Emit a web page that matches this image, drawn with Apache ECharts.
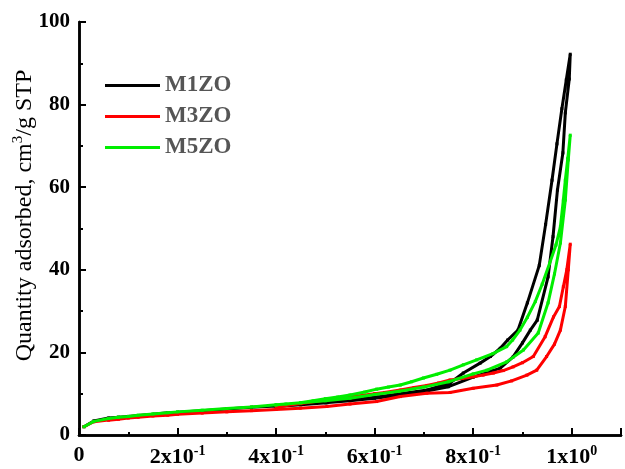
<!DOCTYPE html>
<html>
<head>
<meta charset="utf-8">
<script src="https://cdn.jsdelivr.net/npm/echarts@6/dist/echarts.min.js"></script>
<style>
  html, body { margin: 0; padding: 0; background: #fff; }
  #chart { width: 625px; height: 469px; }
</style>
</head>
<body>
<div id="chart"></div>
<script>
// N2 isotherms: relative pressure P/P0 and quantity adsorbed (cm3/g STP)
const seriesNames = ['M1ZO', 'M3ZO', 'M5ZO'];

// M1ZO adsorption / desorption branches
const m1zoAdsP = [0.01, 0.03, 0.06, 0.08, 0.10, 0.12, 0.15, 0.18, 0.20, 0.25, 0.30, 0.35, 0.40, 0.45, 0.50, 0.55, 0.60, 0.65, 0.70, 0.75, 0.80, 0.84, 0.855, 0.881, 0.90, 0.916, 0.93, 0.952, 0.962, 0.971, 0.982, 0.987, 0.995, 0.997];
const m1zoAdsQ = [2.0, 3.4, 4.1, 4.3, 4.5, 4.7, 5.0, 5.4, 5.5, 5.9, 6.3, 6.7, 7.0, 7.4, 7.8, 8.3, 8.9, 9.6, 10.5, 11.7, 14.0, 15.6, 16.2, 18.9, 22.3, 25.4, 27.8, 38.3, 48.0, 59.3, 68.3, 78.0, 86.2, 92.2];
const m1zoDesP = [0.989, 0.980, 0.970, 0.960, 0.947, 0.934, 0.910, 0.891, 0.870, 0.855, 0.835, 0.814, 0.780, 0.753, 0.707, 0.652, 0.605, 0.550, 0.503, 0.450, 0.400];
const m1zoDesQ = [86.0, 79.0, 70.5, 61.7, 51.0, 41.0, 32.0, 25.4, 23.0, 21.0, 19.0, 17.4, 15.0, 12.6, 10.9, 10.0, 9.2, 8.4, 7.8, 7.3, 6.9];

// M3ZO adsorption / desorption branches
const m3zoAdsP = [0.01, 0.03, 0.06, 0.08, 0.10, 0.12, 0.15, 0.18, 0.20, 0.25, 0.30, 0.35, 0.40, 0.449, 0.503, 0.55, 0.604, 0.652, 0.706, 0.753, 0.80, 0.848, 0.878, 0.909, 0.929, 0.949, 0.965, 0.977, 0.987, 0.993, 0.997];
const m3zoAdsQ = [2.0, 3.2, 3.6, 3.8, 4.1, 4.3, 4.6, 4.8, 5.0, 5.3, 5.6, 5.9, 6.2, 6.5, 6.9, 7.5, 8.1, 9.3, 10.1, 10.3, 11.3, 12.1, 13.1, 14.5, 15.7, 19.0, 22.0, 25.4, 31.1, 40.0, 46.2];
const m3zoDesP = [0.990, 0.983, 0.975, 0.963, 0.946, 0.922, 0.900, 0.881, 0.861, 0.841, 0.820, 0.800, 0.777, 0.753, 0.730, 0.706, 0.680, 0.652, 0.620, 0.600, 0.550, 0.500, 0.450, 0.400];
const m3zoDesQ = [40.0, 35.9, 31.1, 28.6, 23.8, 19.0, 17.5, 16.5, 15.6, 15.0, 14.5, 14.1, 13.7, 13.3, 12.6, 12.0, 11.5, 10.9, 10.3, 10.0, 9.2, 8.5, 7.6, 6.8];

// M5ZO adsorption / desorption branches
const m5zoAdsP = [0.01, 0.03, 0.06, 0.08, 0.10, 0.12, 0.15, 0.18, 0.20, 0.25, 0.30, 0.35, 0.40, 0.45, 0.50, 0.55, 0.60, 0.65, 0.70, 0.75, 0.80, 0.828, 0.868, 0.902, 0.932, 0.952, 0.965, 0.977, 0.987, 0.993, 0.997];
const m5zoAdsQ = [2.0, 3.3, 4.0, 4.3, 4.5, 4.8, 5.1, 5.4, 5.6, 6.0, 6.4, 6.8, 7.3, 7.8, 8.3, 8.9, 9.8, 10.6, 11.6, 12.9, 14.8, 15.7, 17.7, 20.6, 24.7, 32.0, 39.0, 46.5, 56.9, 66.6, 72.6];
const m5zoDesP = [0.992, 0.987, 0.983, 0.977, 0.968, 0.955, 0.940, 0.926, 0.910, 0.895, 0.880, 0.868, 0.840, 0.807, 0.780, 0.753, 0.726, 0.699, 0.675, 0.652, 0.628, 0.604, 0.580, 0.550, 0.525, 0.500, 0.475, 0.449, 0.420, 0.400];
const m5zoDesQ = [67.0, 61.7, 56.9, 50.4, 46.0, 41.5, 36.5, 32.3, 28.5, 25.4, 23.0, 21.4, 19.7, 18.2, 17.0, 15.7, 14.7, 13.8, 12.9, 12.1, 11.6, 11.1, 10.4, 9.7, 9.2, 8.8, 8.3, 7.8, 7.5, 7.3];

// Tick labels: mantissa and exponent for each labelled P/P0 value
const xTickValues = [0, 0.2, 0.4, 0.6, 0.8, 1.0];
const xTickMantissa = ['0', '2x10', '4x10', '6x10', '8x10', '1x10'];
const xTickExponent = ['', '-1', '-1', '-1', '-1', '0'];

const colors = ['#000000', '#ff0000', '#00ee00'];

function loop(adsP, adsQ, desP, desQ) {
  const pts = adsP.map((p, i) => [p, adsQ[i]]);
  return pts.concat(desP.map((p, i) => [p, desQ[i]]));
}

const loops = [
  loop(m1zoAdsP, m1zoAdsQ, m1zoDesP, m1zoDesQ),
  loop(m3zoAdsP, m3zoAdsQ, m3zoDesP, m3zoDesQ),
  loop(m5zoAdsP, m5zoAdsQ, m5zoDesP, m5zoDesQ)
];

const serif = 'Liberation Serif, Times New Roman, serif';

const chart = echarts.init(document.getElementById('chart'), null, { renderer: 'canvas' });

chart.setOption({
  animation: false,
  backgroundColor: '#ffffff',
  grid: { left: 79, right: 4, top: 22, bottom: 34, containLabel: false, outerBoundsMode: 'none' },
  legend: {
    orient: 'vertical',
    left: 105,
    top: 74,
    padding: 0,
    icon: 'rect',
    itemWidth: 55,
    itemHeight: 3,
    itemGap: 8,
    data: seriesNames,
    textStyle: { fontFamily: serif, fontWeight: 'bold', fontSize: 23, color: '#555555', lineHeight: 22 }
  },
  xAxis: [{
    type: 'value',
    min: 0,
    max: 1.1,
    interval: 0.2,
    axisLine: { lineStyle: { color: '#000', width: 2.5 } },
    axisTick: { inside: true, length: 7, lineStyle: { color: '#000', width: 2 } },
    minorTick: { show: true, splitNumber: 2, length: 3, lineStyle: { color: '#000', width: 2 } },
    splitLine: { show: false },
    axisLabel: {
      margin: 9,
      fontFamily: serif,
      fontWeight: 'bold',
      fontSize: 22,
      color: '#000',
      formatter: function (v) {
        const k = xTickValues.findIndex(t => Math.abs(t - v) < 1e-6);
        if (k < 0) return '';
        if (!xTickExponent[k]) return '{m|' + xTickMantissa[k] + '}';
        return '{m|' + xTickMantissa[k] + '}{e|' + xTickExponent[k] + '}';
      },
      rich: {
        m: { fontFamily: serif, fontWeight: 'bold', fontSize: 22, color: '#000' },
        e: { fontFamily: serif, fontWeight: 'bold', fontSize: 14, color: '#000', verticalAlign: 'top', padding: [0, 0, 13, 0] }
      }
    }
  }, {
    type: 'value',
    position: 'top',
    min: 0,
    max: 1.1,
    axisLine: { show: true, lineStyle: { color: '#000', width: 2.5 } },
    axisTick: { show: false },
    axisLabel: { show: false },
    splitLine: { show: false }
  }],
  yAxis: [{
    type: 'value',
    min: 0,
    max: 100,
    interval: 20,
    name: 'Quantity adsorbed, cm{s|3}/g STP',
    nameLocation: 'middle',
    nameGap: 40,
    nameMoveOverlap: false,
    nameRotate: 90,
    nameTextStyle: {
      fontFamily: serif,
      fontSize: 24,
      color: '#000',
      padding: [0, 0, 0, 26],
      rich: {
        s: { fontFamily: serif, fontSize: 15, color: '#000', padding: [0, 0, 13, 0] }
      }
    },
    axisLine: { show: true, lineStyle: { color: '#000', width: 2.5 } },
    axisTick: { inside: true, length: 7, lineStyle: { color: '#000', width: 2 } },
    minorTick: { show: true, splitNumber: 2, length: 4, lineStyle: { color: '#000', width: 2 } },
    splitLine: { show: false },
    axisLabel: { margin: 9, fontFamily: serif, fontWeight: 'bold', fontSize: 21, color: '#000' }
  }, {
    type: 'value',
    position: 'right',
    min: 0,
    max: 100,
    interval: 20,
    axisLine: { show: true, lineStyle: { color: '#000', width: 2.5 } },
    axisTick: { show: true, length: 4, lineStyle: { color: '#000', width: 2 } },
    minorTick: { show: true, splitNumber: 2, length: 4, lineStyle: { color: '#000', width: 2 } },
    axisLabel: { show: false },
    splitLine: { show: false }
  }],
  series: seriesNames.map((name, i) => ({
    name: name,
    type: 'line',
    data: loops[i],
    color: colors[i],
    symbol: 'rect',
    symbolSize: 3,
    showSymbol: true,
    lineStyle: { width: 3, color: colors[i] },
    itemStyle: { color: colors[i] },
    z: 2 + i
  }))
});
</script>
</body>
</html>
